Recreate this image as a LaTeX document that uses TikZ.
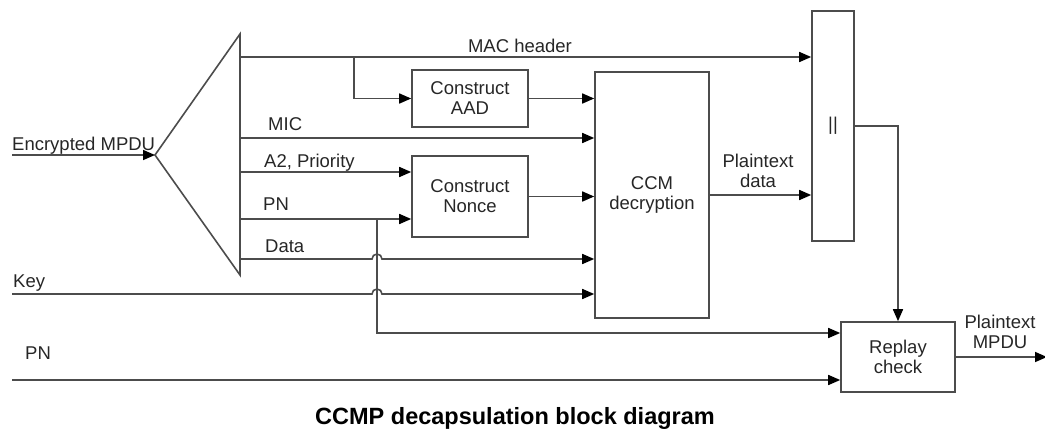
\documentclass[tikz,border=0pt]{standalone}
\usepackage{fontspec}
\setmainfont{Liberation Sans}
\usetikzlibrary{arrows.meta}
\begin{document}
\begin{tikzpicture}[x=1pt,y=-1pt,
  wire/.style={line width=1.6pt, draw=black!70},
  arr/.style={wire, -{Triangle[length=12pt,width=10pt,color=black]}},
  blk/.style={draw=black!70, line width=1.6pt, inner sep=0pt, align=center,
              font=\fontsize{18.5}{20}\selectfont, text=black!85},
  lbl/.style={font=\fontsize{18.5}{20}\selectfont, text=black!85, inner sep=0pt},
]
\useasboundingbox (0,0) rectangle (1045,429);

% splitter
\coordinate (src) at (12,155);
\coordinate (apex) at (155,155);
\coordinate (barT) at (240,34);
\coordinate (barB) at (240,275);
\draw[wire, line join=miter] (barT) -- (apex) -- (barB) -- cycle;

% splitter outputs and other inputs
\coordinate (tMac) at (240,57);
\coordinate (tMic) at (240,138);
\coordinate (tA2) at (240,172);
\coordinate (tPn) at (240,219);
\coordinate (tData) at (240,259);
\coordinate (kIn) at (12,294);
\coordinate (pnIn) at (12,380);
\coordinate (macDrop) at (354,57);
\coordinate (pnTap) at (377,219);
\coordinate (pnTurn) at (377,333);
\coordinate (outEnd) at (1047,357);

% blocks
\node[blk, minimum width=116pt, minimum height=57pt] (aad) at (470,98.5) {Construct\\AAD};
\node[blk, minimum width=116pt, minimum height=81pt] (nonce) at (470,196.5) {Construct\\Nonce};
\node[blk, minimum width=114pt, minimum height=246pt] (ccm) at (652,195) {CCM\\decryption};
\node[blk, minimum width=42pt, minimum height=230pt] (cat) at (833,126) {||};
\node[blk, minimum width=114pt, minimum height=70pt] (replay) at (898,357) {Replay\\check};

% connectors
\draw[arr] (src) -- (apex);
\draw[arr] (tMac) -- (tMac -| cat.west);
\draw[arr] (macDrop) |- (aad.west);
\draw[arr] (aad.east) -- (aad.east -| ccm.west);
\draw[arr] (tMic) -- (tMic -| ccm.west);
\draw[arr] (tA2) -- (tA2 -| nonce.west);
\draw[arr] (tPn) -- (tPn -| nonce.west);
\draw[arr] (nonce.east) -- (nonce.east -| ccm.west);
\draw[arr] (tData) -- (372,259) arc[start angle=180,end angle=0,radius=5pt] -- (tData -| ccm.west);
\draw[arr] (kIn) -- (372,294) arc[start angle=180,end angle=0,radius=5pt] -- (kIn -| ccm.west);
\draw[arr] (pnTap) -- (pnTurn) -- (pnTurn -| replay.west);
\draw[arr] (pnIn) -- (pnIn -| replay.west);
\draw[arr] (ccm.east) -- (ccm.east -| cat.west);
\draw[arr] (cat.east) -| (replay.north);
\draw[arr] (replay.east) -- (outEnd);

% labels
\node[lbl, anchor=base west] (lEnc) at (12,150) {Encrypted MPDU};
\node[lbl, anchor=base] (lMac) at (520,52) {MAC header};
\node[lbl, anchor=base west] (lMic) at (268,130) {MIC};
\node[lbl, anchor=base west] (lA2) at (264,167) {A2, Priority};
\node[lbl, anchor=base west] (lPn) at (263,210) {PN};
\node[lbl, anchor=base west] (lData) at (265,252) {Data};
\node[lbl, anchor=base west] (lKey) at (13,287) {Key};
\node[lbl, anchor=base west] (lPn2) at (25,359) {PN};
\node[lbl, align=center] (lPlain) at (758,171) {Plaintext\\data};
\node[lbl, align=center] (lOut) at (1000,332) {Plaintext\\MPDU};

% caption
\node[font=\bfseries\fontsize{23.5}{26}\selectfont, text=black, inner sep=0pt, anchor=base] (cap) at (515,424) {CCMP decapsulation block diagram};
\end{tikzpicture}
\end{document}
